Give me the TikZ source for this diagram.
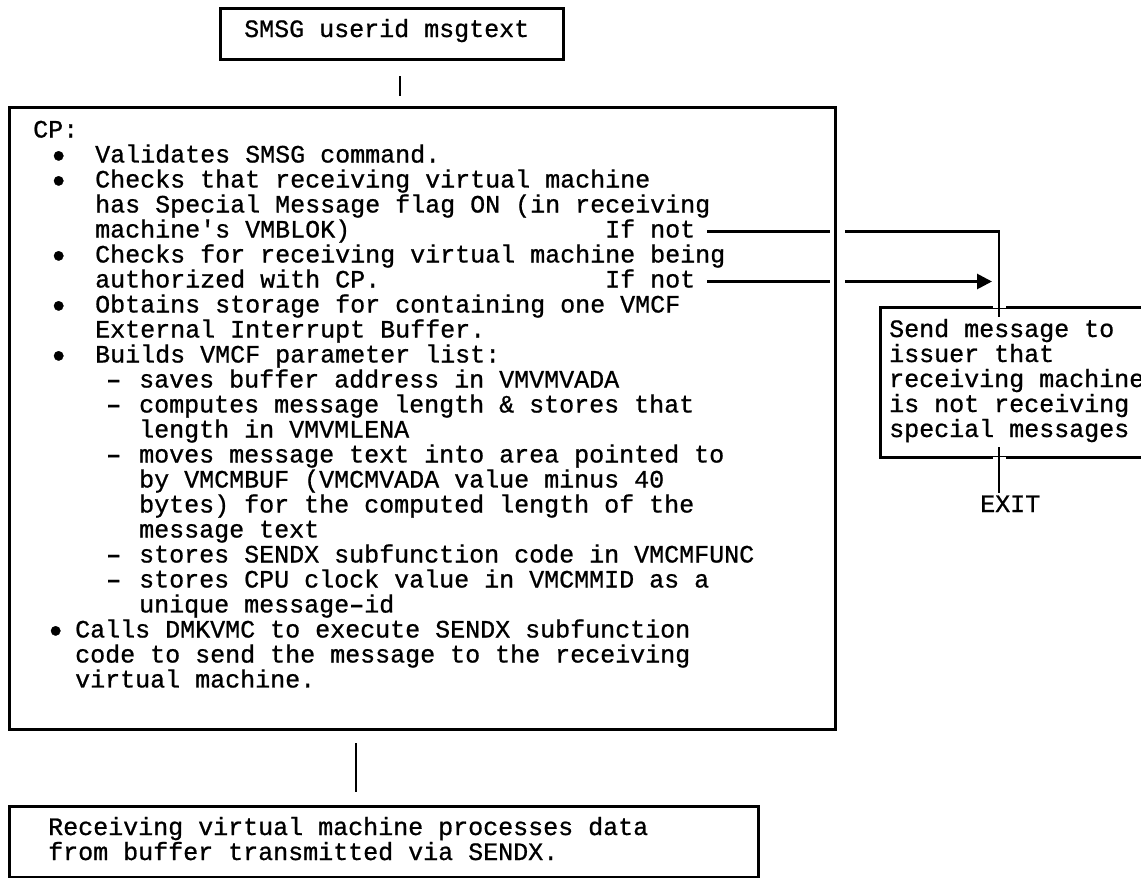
\documentclass[tikz,border=0pt]{standalone}
\usepackage{fontspec}
\newfontfamily\ibm[FakeBold=0.8]{Liberation Mono}
\usetikzlibrary{arrows.meta,calc}
% start a new text row, indented by #1
\newcommand\ind[1]{\par\noindent\hspace*{#1}}
\newcommand\bigdot{\raisebox{-0.2em}{\scalebox{1.4}{•}}}
\newcommand\blt{\makebox[47pt][l]{\bigdot}}
\newcommand\longdash{{\bfseries –}}
\newcommand\dsh{\makebox[33pt][l]{\longdash}}
\begin{document}
\begin{tikzpicture}[x=1pt,y=-1pt,
  frame/.style={draw, line width=3pt, inner sep=0pt, anchor=north west},
  txt/.style={font=\ibm\fontsize{25}{25}\selectfont, inner sep=0pt, anchor=base west},
  link/.style={line width=2.8pt},
  gap/.style={draw=white, line width=4.5pt},
  tip/.style={-{Triangle[length=15pt,width=15pt]}}
  ]
\useasboundingbox (0,0) rectangle (1141,878);
\clip (0,0) rectangle (1141,878);
\fill[white] (0,0) rectangle (1141,878);

% boxes
\node[frame, minimum width=343pt, minimum height=51pt] (cmd) at (219,7) {};
\node[frame, minimum width=826pt, minimum height=622pt] (cp) at (8,106) {};
\node[frame, minimum width=281pt, minimum height=150pt] (notify) at (879,306) {};
\node[frame, minimum width=749pt, minimum height=71pt] (recv) at (8,805) {};

% texts
\node[txt] (cmdtext) at (244,37) {SMSG userid msgtext};

\node[txt] (cptext) at (33,137.5) {\parbox[t]{760pt}{\raggedright
\ind{0pt}CP:
\ind{15pt}\blt Validates SMSG command.
\ind{15pt}\blt Checks that receiving virtual machine
\ind{62pt}has Special Message flag ON (in receiving
\ind{62pt}machine's VMBLOK)
\ind{15pt}\blt Checks for receiving virtual machine being
\ind{62pt}authorized with CP.
\ind{15pt}\blt Obtains storage for containing one VMCF
\ind{62pt}External Interrupt Buffer.
\ind{15pt}\blt Builds VMCF parameter list:
\ind{73pt}\dsh saves buffer address in VMVMVADA
\ind{73pt}\dsh computes message length \& stores that
\ind{106pt}length in VMVMLENA
\ind{73pt}\dsh moves message text into area pointed to
\ind{106pt}by VMCMBUF (VMCMVADA value minus 40
\ind{106pt}bytes) for the computed length of the
\ind{106pt}message text
\ind{73pt}\dsh stores SENDX subfunction code in VMCMFUNC
\ind{73pt}\dsh stores CPU clock value in VMCMMID as a
\ind{106pt}unique message\longdash id
\ind{12pt}\makebox[30pt][l]{\bigdot}Calls DMKVMC to execute SENDX subfunction
\ind{42pt}code to send the message to the receiving
\ind{42pt}virtual machine.\par}};

\node[txt] (ifnot1) at (605,237.5) {If not};
\node[txt] (ifnot2) at (605,287.5) {If not};

\node[txt] (notifytext) at (889,337) {\parbox[t]{300pt}{Send message to\\issuer that\\receiving machine\\is not receiving\\special messages}};
\node[txt] (exit) at (980,512) {EXIT};

\node[txt] (recvtext) at (48,835) {\parbox[t]{720pt}{Receiving virtual machine processes data\\from buffer transmitted via SENDX.}};

% connector points
\coordinate (s1a) at (400,76);
\coordinate (s1b) at (400,96);
\coordinate (s2a) at (356,743);
\coordinate (s2b) at (356,792);
\coordinate (j1) at (999,231.5);
\coordinate (a2) at (992,281.5);

% flow stubs between the stacked boxes
\draw[link] (s1a) -- (s1b);
\draw[link] (s2a) -- (s2b);

% openings in the notify box border
\draw[gap] ($(notify.north -| j1)+(-6,0)$) -- ($(notify.north -| j1)+(7,0)$);
\draw[gap] ($(notify.south -| j1)+(-6,0)$) -- ($(notify.south -| j1)+(7,0)$);

% "If not" branches
\draw[link] ($(ifnot1.base east)+(12,-6)$) -- ($(cp.east |- j1)+(-7,0)$);
\draw[link] ($(cp.east |- j1)+(8,0)$) -- (j1) -- ($(notify.north -| j1)+(0,11)$);
\draw[link] ($(ifnot2.base east)+(12,-6)$) -- ($(cp.east |- a2)+(-7,0)$);
\draw[link,tip] ($(cp.east |- a2)+(8,0)$) -- (a2);

% exit
\draw[link] ($(notify.south -| j1)+(0,-12)$) -- ($(exit.north -| j1)+(0,-2.5)$);
\end{tikzpicture}
\end{document}
